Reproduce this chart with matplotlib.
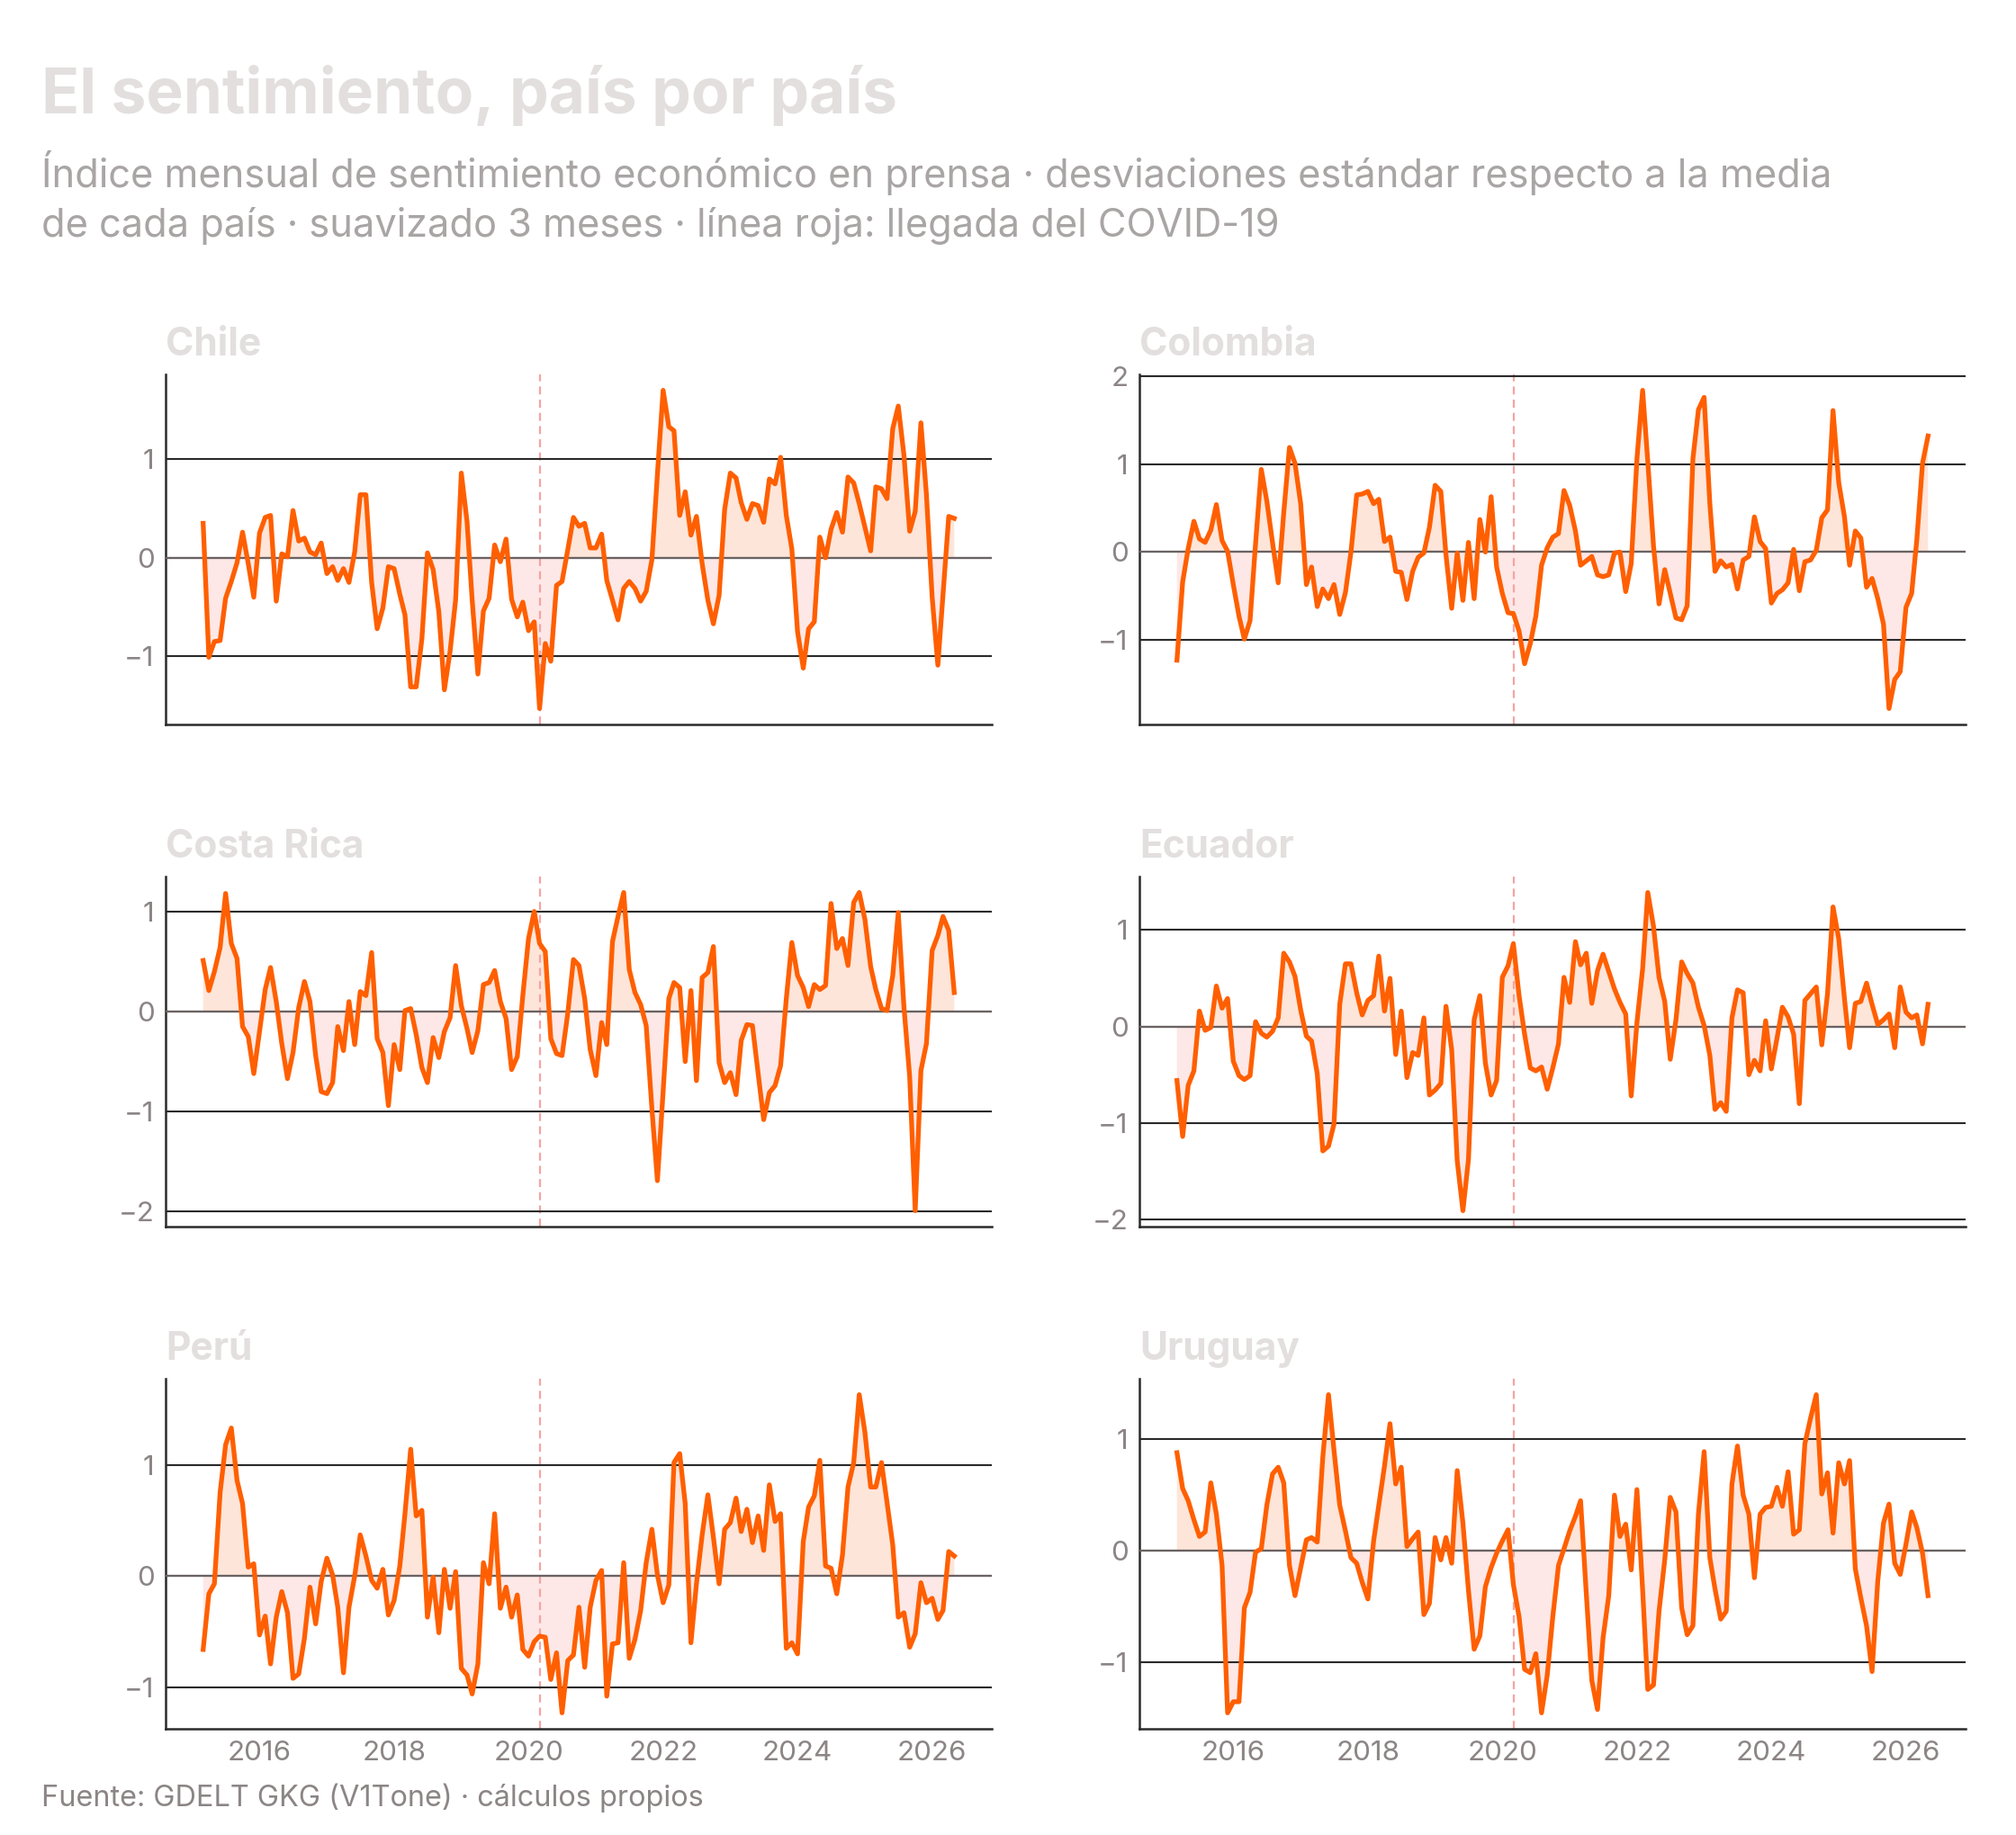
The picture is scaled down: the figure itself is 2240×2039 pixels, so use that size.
import numpy as np
import pandas as pd
import matplotlib
matplotlib.use("Agg")
import matplotlib.pyplot as plt
import matplotlib.dates as mdates
from matplotlib.ticker import MultipleLocator

plt.rcParams['font.family'] = ['Inter', 'DejaVu Sans']

# ---------------- data ----------------
dates = pd.date_range('2015-03-01', periods=135, freq='MS')
covid_date = pd.Timestamp('2020-03-01')

countries = ["Chile", "Colombia", "Costa Rica", "Ecuador", "Perú", "Uruguay"]

chile = [0.35, -1.01, -0.85, -0.84, -0.41, -0.24, -0.05, 0.26, -0.06, -0.40,
         0.25, 0.41, 0.43, -0.44, 0.04, 0.01, 0.48, 0.17, 0.20, 0.06,
         0.03, 0.15, -0.16, -0.09, -0.23, -0.11, -0.25, 0.06, 0.64, 0.64,
         -0.25, -0.72, -0.51, -0.09, -0.11, -0.37, -0.58, -1.31, -1.31, -0.82,
         0.05, -0.12, -0.55, -1.34, -0.95, -0.43, 0.86, 0.37, -0.43, -1.18,
         -0.54, -0.41, 0.13, -0.04, 0.19, -0.42, -0.60, -0.45, -0.74, -0.65,
         -1.53, -0.87, -1.05, -0.28, -0.24, 0.08, 0.41, 0.32, 0.35, 0.10,
         0.10, 0.24, -0.23, -0.43, -0.63, -0.31, -0.24, -0.31, -0.44, -0.34,
         -0.02, 0.85, 1.70, 1.33, 1.29, 0.43, 0.67, 0.23, 0.42, -0.06,
         -0.43, -0.67, -0.38, 0.49, 0.86, 0.81, 0.56, 0.39, 0.55, 0.53,
         0.36, 0.80, 0.75, 1.02, 0.43, 0.09, -0.75, -1.12, -0.72, -0.65,
         0.21, 0.00, 0.29, 0.46, 0.26, 0.82, 0.76, 0.55, 0.31, 0.07,
         0.72, 0.70, 0.60, 1.31, 1.54, 1.04, 0.27, 0.47, 1.37, 0.64,
         -0.40, -1.09, -0.37, 0.42, 0.40]

colombia = [-1.23, -0.34, 0.04, 0.35, 0.15, 0.11, 0.25, 0.54, 0.13, 0.01,
            -0.37, -0.73, -0.99, -0.78, 0.10, 0.94, 0.58, 0.11, -0.35, 0.45,
            1.19, 1.01, 0.55, -0.37, -0.17, -0.62, -0.42, -0.53, -0.37, -0.71,
            -0.46, 0.00, 0.65, 0.66, 0.69, 0.55, 0.60, 0.12, 0.17, -0.22,
            -0.23, -0.54, -0.22, -0.06, -0.01, 0.28, 0.76, 0.69, -0.03, -0.64,
            -0.01, -0.55, 0.11, -0.53, 0.37, 0.00, 0.63, -0.17, -0.47, -0.69,
            -0.70, -0.90, -1.27, -1.04, -0.73, -0.15, 0.05, 0.17, 0.21, 0.70,
            0.53, 0.24, -0.15, -0.10, -0.05, -0.26, -0.28, -0.26, -0.01, 0.00,
            -0.45, -0.13, 1.06, 1.84, 1.03, 0.07, -0.59, -0.20, -0.47, -0.75,
            -0.77, -0.61, 1.06, 1.62, 1.76, 0.55, -0.22, -0.10, -0.17, -0.14,
            -0.42, -0.09, -0.05, 0.40, 0.12, 0.04, -0.58, -0.47, -0.43, -0.35,
            0.03, -0.44, -0.11, -0.09, 0.02, 0.39, 0.48, 1.61, 0.79, 0.40,
            -0.15, 0.24, 0.16, -0.40, -0.30, -0.53, -0.82, -1.78, -1.45, -1.36,
            -0.63, -0.47, 0.14, 1.01, 1.32]

costa_rica = [0.51, 0.21, 0.40, 0.64, 1.18, 0.68, 0.53, -0.15, -0.25, -0.62,
              -0.20, 0.22, 0.44, 0.10, -0.32, -0.67, -0.41, 0.04, 0.30, 0.10,
              -0.44, -0.80, -0.82, -0.71, -0.15, -0.39, 0.10, -0.33, 0.20, 0.16,
              0.59, -0.27, -0.41, -0.94, -0.33, -0.58, 0.01, 0.03, -0.23, -0.56,
              -0.71, -0.26, -0.46, -0.20, -0.06, 0.46, 0.06, -0.17, -0.41, -0.19,
              0.27, 0.29, 0.41, 0.10, -0.07, -0.58, -0.45, 0.16, 0.73, 1.00,
              0.68, 0.60, -0.27, -0.42, -0.44, -0.02, 0.52, 0.46, 0.13, -0.38,
              -0.64, -0.11, -0.33, 0.70, 0.95, 1.19, 0.42, 0.19, 0.07, -0.14,
              -0.97, -1.69, -0.80, 0.13, 0.29, 0.24, -0.50, 0.21, -0.69, 0.34,
              0.39, 0.65, -0.51, -0.71, -0.61, -0.83, -0.29, -0.13, -0.14, -0.62,
              -1.08, -0.81, -0.74, -0.54, 0.13, 0.69, 0.36, 0.24, 0.05, 0.27,
              0.22, 0.26, 1.08, 0.63, 0.73, 0.46, 1.09, 1.19, 0.92, 0.45,
              0.22, 0.03, 0.01, 0.36, 0.99, 0.04, -0.65, -1.99, -0.59, -0.32,
              0.61, 0.76, 0.95, 0.81, 0.19]

ecuador = [-0.56, -1.14, -0.61, -0.46, 0.16, -0.04, -0.01, 0.42, 0.19, 0.29,
           -0.36, -0.51, -0.55, -0.51, 0.05, -0.07, -0.11, -0.05, 0.09, 0.76,
           0.67, 0.52, 0.17, -0.10, -0.15, -0.49, -1.29, -1.24, -1.01, 0.23,
           0.65, 0.65, 0.35, 0.12, 0.27, 0.32, 0.73, 0.16, 0.50, -0.29,
           0.16, -0.53, -0.27, -0.30, 0.09, -0.71, -0.66, -0.59, 0.21, -0.24,
           -1.39, -1.91, -1.38, 0.07, 0.32, -0.38, -0.71, -0.56, 0.51, 0.63,
           0.86, 0.32, -0.08, -0.43, -0.46, -0.42, -0.65, -0.43, -0.18, 0.51,
           0.25, 0.88, 0.64, 0.76, 0.24, 0.58, 0.75, 0.57, 0.39, 0.25,
           0.13, -0.72, 0.04, 0.60, 1.39, 1.04, 0.51, 0.26, -0.34, 0.07,
           0.67, 0.55, 0.45, 0.20, 0.01, -0.30, -0.86, -0.79, -0.88, 0.09,
           0.38, 0.35, -0.50, -0.35, -0.46, 0.06, -0.44, -0.12, 0.20, 0.10,
           -0.08, -0.80, 0.27, 0.34, 0.41, -0.19, 0.34, 1.24, 0.91, 0.29,
           -0.22, 0.24, 0.26, 0.45, 0.23, 0.02, 0.07, 0.13, -0.22, 0.41,
           0.15, 0.09, 0.12, -0.18, 0.23]

peru = [-0.66, -0.16, -0.07, 0.75, 1.18, 1.33, 0.86, 0.65, 0.08, 0.11,
        -0.53, -0.36, -0.79, -0.37, -0.14, -0.33, -0.92, -0.88, -0.56, -0.10,
        -0.43, -0.05, 0.16, 0.01, -0.28, -0.87, -0.28, 0.00, 0.37, 0.18,
        -0.04, -0.11, 0.06, -0.35, -0.22, 0.09, 0.56, 1.14, 0.54, 0.59,
        -0.37, -0.01, -0.51, 0.06, -0.29, 0.04, -0.83, -0.89, -1.06, -0.79,
        0.12, -0.07, 0.56, -0.29, -0.10, -0.37, -0.17, -0.66, -0.72, -0.59,
        -0.54, -0.55, -0.93, -0.69, -1.23, -0.76, -0.71, -0.28, -0.82, -0.28,
        -0.04, 0.05, -1.08, -0.61, -0.60, 0.12, -0.74, -0.57, -0.31, 0.12,
        0.42, 0.01, -0.24, -0.08, 1.02, 1.10, 0.65, -0.60, -0.07, 0.37,
        0.73, 0.35, -0.07, 0.42, 0.48, 0.70, 0.40, 0.60, 0.30, 0.54,
        0.23, 0.82, 0.49, 0.56, -0.65, -0.60, -0.70, 0.31, 0.62, 0.72,
        1.04, 0.09, 0.07, -0.16, 0.19, 0.80, 1.02, 1.63, 1.29, 0.80,
        0.80, 1.02, 0.66, 0.28, -0.37, -0.33, -0.64, -0.52, -0.06, -0.24,
        -0.20, -0.39, -0.31, 0.22, 0.18]

uruguay = [0.88, 0.56, 0.45, 0.28, 0.13, 0.17, 0.61, 0.33, -0.13, -1.45,
           -1.35, -1.35, -0.51, -0.37, -0.01, 0.02, 0.41, 0.69, 0.75, 0.61,
           -0.13, -0.40, -0.15, 0.10, 0.12, 0.08, 0.84, 1.40, 0.90, 0.41,
           0.18, -0.06, -0.11, -0.28, -0.43, 0.09, 0.41, 0.76, 1.14, 0.60,
           0.75, 0.04, 0.11, 0.17, -0.57, -0.47, 0.12, -0.08, 0.12, -0.11,
           0.72, 0.25, -0.35, -0.88, -0.76, -0.32, -0.15, -0.02, 0.09, 0.19,
           -0.30, -0.59, -1.06, -1.09, -0.92, -1.45, -1.11, -0.59, -0.13, 0.02,
           0.18, 0.31, 0.45, -0.38, -1.16, -1.42, -0.78, -0.40, 0.50, 0.13,
           0.24, -0.17, 0.55, -0.35, -1.24, -1.20, -0.54, -0.08, 0.48, 0.35,
           -0.51, -0.75, -0.67, 0.33, 0.89, -0.06, -0.34, -0.61, -0.54, 0.60,
           0.94, 0.50, 0.33, -0.24, 0.33, 0.39, 0.40, 0.57, 0.40, 0.71,
           0.15, 0.19, 0.96, 1.19, 1.40, 0.51, 0.70, 0.16, 0.79, 0.60,
           0.81, -0.16, -0.42, -0.67, -1.08, -0.27, 0.25, 0.42, -0.11, -0.21,
           0.06, 0.35, 0.21, -0.02, -0.40]

series = [chile, colombia, costa_rica, ecuador, peru, uruguay]

# ---------------- styling ----------------
W, H = 2240, 2039
DPI = 200
fig = plt.figure(figsize=(W / DPI, H / DPI), dpi=DPI)
fig.patch.set_facecolor('white')

LINE = '#ff5f00'
POS_FILL = '#fee5d9'
NEG_FILL = '#fde8e7'
GRID = '#2a2a2a'
ZERO = '#6a6262'
TICK = '#8c8585'
PANEL_T = '#e3dfdf'

col_left = [184, 1266]
row_top = [416, 974, 1532]
ax_w, ax_h = 918, 389

for k, (name, vals) in enumerate(zip(countries, series)):
    r, c = divmod(k, 2)
    left = col_left[c]
    top = row_top[r]
    ax = fig.add_axes([left / W, 1 - (top + ax_h) / H, ax_w / W, ax_h / H])
    v = np.array(vals)
    ax.fill_between(dates, v, 0, where=v >= 0, interpolate=True,
                    color=POS_FILL, lw=0, zorder=1)
    ax.fill_between(dates, v, 0, where=v <= 0, interpolate=True,
                    color=NEG_FILL, lw=0, zorder=1)
    ax.axvline(covid_date, color='#f6a3a3', lw=0.8, ls=(0, (4, 2.6)), zorder=2)
    ax.plot(dates, v, color=LINE, lw=1.9, zorder=4)
    ax.yaxis.set_major_locator(MultipleLocator(1))
    ax.grid(axis='y', color=GRID, lw=0.75, zorder=2)
    ax.grid(axis='x', visible=False)
    ax.set_axisbelow(False)
    ax.axhline(0, color=ZERO, lw=0.8, zorder=3)
    for s in ['top', 'right']:
        ax.spines[s].set_visible(False)
    for s in ['left', 'bottom']:
        ax.spines[s].set_color(GRID)
        ax.spines[s].set_linewidth(0.9)
    ax.xaxis.set_major_locator(mdates.YearLocator(2))
    ax.xaxis.set_major_formatter(mdates.DateFormatter('%Y'))
    ax.tick_params(length=0, labelsize=11.3, labelcolor=TICK, pad=4.5)
    if r < 2:
        ax.tick_params(labelbottom=False)
    fig.text(left / W, 1 - (top - 21) / H, name, fontsize=15.3, fontweight='bold',
             color=PANEL_T, ha='left', va='baseline')

fig.text(46 / W, 1 - 126 / H, "El sentimiento, país por país", fontsize=25,
         fontweight='bold', color='#e3dfdf', ha='left', va='baseline')
fig.text(46 / W, 1 - 208 / H,
         "Índice mensual de sentimiento económico en prensa · desviaciones estándar respecto a la media",
         fontsize=15.6, color='#a9a5a5', ha='left', va='baseline')
fig.text(46 / W, 1 - 263 / H,
         "de cada país · suavizado 3 meses · línea roja: llegada del COVID-19",
         fontsize=15.6, color='#a9a5a5', ha='left', va='baseline')
fig.text(46 / W, 1 - 2007 / H, "Fuente: GDELT GKG (V1Tone) · cálculos propios",
         fontsize=11.7, color='#8c8585', ha='left', va='baseline')

fig.savefig('out.png', dpi=DPI, facecolor='white')
